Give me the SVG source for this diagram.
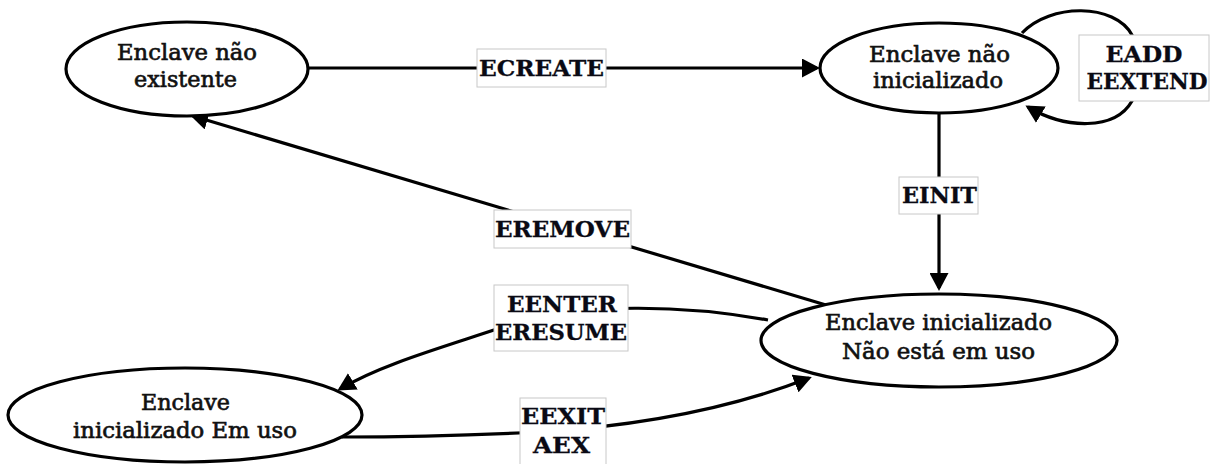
<svg xmlns="http://www.w3.org/2000/svg" width="1217" height="464" viewBox="0 0 1217 464">
  <style>
    .bg { fill: #ffffff; }
    .node ellipse { fill: #ffffff; stroke: #000000; stroke-width: 3.2; }
    .node text { font-family: "DejaVu Serif", "Liberation Serif", serif; font-size: 22px; fill: #111111; stroke: #111111; stroke-width: 0.65; text-anchor: middle; }
    .edge { fill: none; stroke: #000000; stroke-width: 3.2; marker-end: url(#arrow); }
    .lbl rect { fill: #ffffff; stroke: #c8c8c8; stroke-width: 1; }
    .lbl text { font-family: "DejaVu Serif", "Liberation Serif", serif; font-weight: bold; font-size: 23px; fill: #0a0a14; stroke: #0a0a14; stroke-width: 0.3; text-anchor: middle; }
  </style>
  <defs>
    <marker id="arrow" markerUnits="userSpaceOnUse" markerWidth="18" markerHeight="19" viewBox="0 0 18 19" refX="15" refY="9.5" orient="auto">
      <path d="M0,0 L18,9.5 L0,19 z" fill="#000000"/>
    </marker>
  </defs>

  <rect class="bg" x="0" y="0" width="1217" height="464"/>

  <!-- transitions -->
  <g id="connectors">
    <path class="edge" d="M308,68 L817,68"/>
    <path class="edge" d="M1022,33 C1050,3 1115,3 1132,35 L1132,101 C1115,131 1065,129 1028,107"/>
    <path class="edge" d="M939,113 L939,288"/>
    <path class="edge" d="M826,305 L193,116"/>
    <path class="edge" d="M768,320 C690,306 580,300 500,328 C440,348 380,365 340,389"/>
    <path class="edge" d="M342,437 C420,437 480,435 540,432 C650,425 740,405 809,378"/>
  </g>

  <!-- transition labels -->
  <g id="labels">
    <g class="lbl" id="lbl-ecreate">
      <rect x="477" y="49" width="129" height="38"/>
      <text x="541.5" y="76" textLength="125" lengthAdjust="spacingAndGlyphs">ECREATE</text>
    </g>
    <g class="lbl" id="lbl-eadd">
      <rect x="1079" y="35" width="130" height="66"/>
      <text x="1144" y="62" textLength="77" lengthAdjust="spacingAndGlyphs">EADD</text>
      <text x="1147" y="89" textLength="121" lengthAdjust="spacingAndGlyphs">EEXTEND</text>
    </g>
    <g class="lbl" id="lbl-einit">
      <rect x="899" y="177" width="79" height="37"/>
      <text x="939.5" y="203" textLength="75" lengthAdjust="spacingAndGlyphs">EINIT</text>
    </g>
    <g class="lbl" id="lbl-eremove">
      <rect x="494" y="210" width="137" height="38"/>
      <text x="562.5" y="237" textLength="135" lengthAdjust="spacingAndGlyphs">EREMOVE</text>
    </g>
    <g class="lbl" id="lbl-eenter">
      <rect x="494" y="285" width="134" height="66"/>
      <text x="562" y="312" textLength="110" lengthAdjust="spacingAndGlyphs">EENTER</text>
      <text x="561" y="340" textLength="132" lengthAdjust="spacingAndGlyphs">ERESUME</text>
    </g>
    <g class="lbl" id="lbl-eexit">
      <rect x="520" y="398" width="86" height="70"/>
      <text x="563" y="424" textLength="84" lengthAdjust="spacingAndGlyphs">EEXIT</text>
      <text x="561.5" y="453" textLength="57" lengthAdjust="spacingAndGlyphs">AEX</text>
    </g>
  </g>

  <!-- states -->
  <g class="node" id="node-nao-existente">
    <ellipse cx="187" cy="69" rx="121" ry="47"/>
    <text x="187" y="60" textLength="140" lengthAdjust="spacingAndGlyphs">Enclave não</text>
    <text x="185.5" y="87" textLength="103" lengthAdjust="spacingAndGlyphs">existente</text>
  </g>
  <g class="node" id="node-nao-inicializado">
    <ellipse cx="939" cy="68" rx="119" ry="45"/>
    <text x="939.5" y="62" textLength="141" lengthAdjust="spacingAndGlyphs">Enclave não</text>
    <text x="938" y="88" textLength="130" lengthAdjust="spacingAndGlyphs">inicializado</text>
  </g>
  <g class="node" id="node-inicializado-livre">
    <ellipse cx="939" cy="340.5" rx="178" ry="46.5"/>
    <text x="938.5" y="330" textLength="227" lengthAdjust="spacingAndGlyphs">Enclave inicializado</text>
    <text x="938.5" y="359" textLength="193" lengthAdjust="spacingAndGlyphs">Não está em uso</text>
  </g>
  <g class="node" id="node-inicializado-em-uso">
    <ellipse cx="185" cy="415" rx="177" ry="47"/>
    <text x="185.5" y="410" textLength="89" lengthAdjust="spacingAndGlyphs">Enclave</text>
    <text x="185" y="438" textLength="224" lengthAdjust="spacingAndGlyphs">inicializado Em uso</text>
  </g>
</svg>
